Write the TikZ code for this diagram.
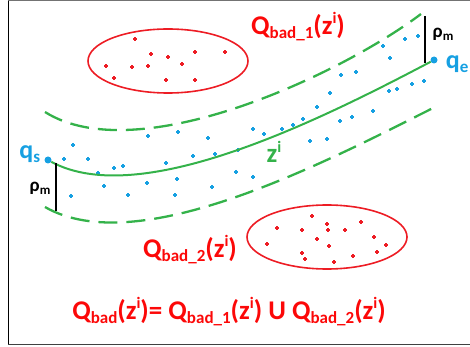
\documentclass[tikz,border=0pt]{standalone}
\usepackage{fontspec}
\setmainfont{Carlito}
\usetikzlibrary{positioning}
\definecolor{badred}{RGB}{237,28,36}
\definecolor{txtred}{RGB}{252,8,8}
\definecolor{tubegreen}{RGB}{52,178,74}
\definecolor{confblue}{RGB}{22,160,226}
\newcommand\lo[1]{\raisebox{-0.35ex}{\fontsize{17}{17}\selectfont #1}}
\newcommand\hi[1]{\raisebox{0.8ex}{\fontsize{16}{16}\selectfont #1}}
\tikzset{
  region/.style = {draw=badred, line width=1.6pt},
  badpt/.style  = {badred, line width=1.2pt},
  obs/.style    = {confblue, line width=1.2pt},
  tube/.style   = {draw=tubegreen, line width=2.3pt, dash pattern=on 19pt off 9pt},
  refp/.style   = {draw=tubegreen, line width=2pt},
  bar/.style    = {draw=black, line width=1.5pt},
  dot/.style    = {circle, fill=confblue, inner sep=0pt, minimum size=7pt},
  qlbl/.style   = {text=confblue, font=\bfseries\fontsize{26}{28}\selectfont, inner sep=0pt},
  rho/.style    = {text=black, font=\bfseries\fontsize{19}{20}\selectfont, inner sep=0pt},
  lbl/.style    = {text=txtred, font=\bfseries\fontsize{27}{29}\selectfont, inner sep=0pt},
  zlbl/.style   = {text=tubegreen, font=\bfseries\fontsize{27}{29}\selectfont, inner sep=0pt}
}
\begin{document}
\begin{tikzpicture}[x=1pt,y=-1pt]
  \useasboundingbox (0,0) rectangle (470,347);
  % ---- frame ----
  \draw[black!55, line width=1pt] (470,0.6) -- (8,0.6);
  \draw[black, line width=1pt] (8,0.6) -- (8,344.4);
  \draw[black!75, line width=1pt] (8,344.4) -- (470,344.4);
  % ---- bad regions ----
  \draw[region] (168,61) ellipse [x radius=80, y radius=32];
  \draw[region] (327,237) ellipse [x radius=80, y radius=32];
  \foreach \x/\y in {135/39,151/54,168/57,195/52,225/52,106/66,132/67,148/66,
                     182/64,114/78,166/80,195/80,
                     312/216,277/228,302/230,327/224,328/230,345/230,361/222,
                     374/237,386/245,267/244,317/239,329/246,377/252,302/253,
                     305/259,334/262,353/256}
    \draw[badpt] (\x,\y) +(-1.8,0) -- +(1.8,0) (\x,\y) +(0,-1.8) -- +(0,1.8);
  % ---- samples around the path ----
  \foreach \x/\y in {418/36,405/39,383/46,390/58,356/72,341/75,330/93,317/107,
                     303/119,293/125,282/129,264/134,253/129,208/138,178/132,
                     148/136,73/145,64/159,88/159,123/166,114/168,166/163,
                     193/156,215/154,238/150,
                     424/81,412/84,397/89,389/91,373/111,352/117,340/121,
                     327/139,310/141,236/172,253/177,212/187,177/179,175/195,
                     147/183,128/195,104/186,98/173,71/196}
    \draw[obs] (\x,\y) +(-2,0) -- +(2,0) (\x,\y) +(0,-2) -- +(0,2);
  % ---- tube ----
  \draw[tube] (45,112) .. controls (137,170) and (340,75) .. (421,14);
  \draw[tube] (45,207) .. controls (137,260) and (320,165) .. (435,107);
  \node[dot] (qs) at (48,160) {};
  \node[dot] (qe) at (434,60) {};
  \draw[refp] (qs) .. controls (140,210) and (320,120) .. (qe);
  % ---- width rho_m ----
  \coordinate (rs1) at (56,163);
  \coordinate (rs2) at (56,211);
  \coordinate (re1) at (425,16);
  \coordinate (re2) at (425,63);
  \draw[bar] (rs1) -- (rs2);
  \draw[bar] (re1) -- (re2);
  \node[rho] (rhos) at (40,188) {ρ\lo{\fontsize{13}{13}\selectfont m}};
  \node[rho] (rhoe) at (443,34) {ρ\lo{\fontsize{13}{13}\selectfont m}};
  % ---- labels ----
  \node[qlbl, left=4pt of qs, yshift=6pt] (qslbl) {q\lo{s}};
  \node[qlbl, right=8pt of qe, yshift=-4pt] (qelbl) {q\lo{e}};
  \node[zlbl] (zlbl) at (274,152) {z\hi{i}};
  \node[lbl] (q1) at (298,27) {Q\lo{bad\_1}(z\hi{i})};
  \node[lbl] (q2) at (190,250) {Q\lo{bad\_2}(z\hi{i})};
  \node[lbl] (qall) at (229,312)
    {Q\lo{bad}(z\hi{i})= Q\lo{bad\_1}(z\hi{i}) U Q\lo{bad\_2}(z\hi{i})};
\end{tikzpicture}
\end{document}
